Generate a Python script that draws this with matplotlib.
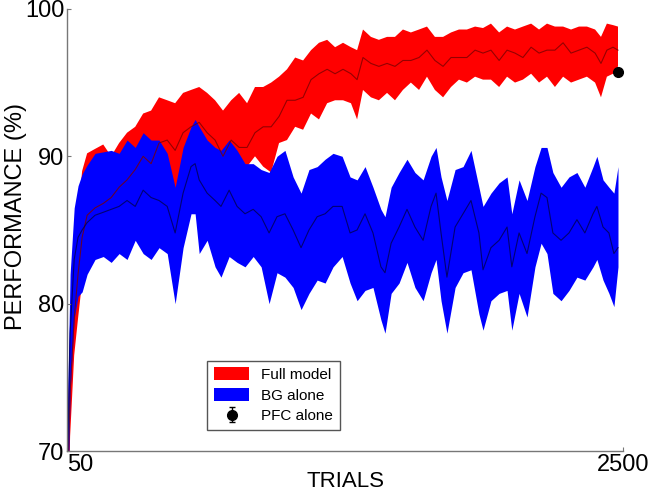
import numpy as np
import matplotlib.pyplot as plt

plt.rcParams['font.family'] = ['Liberation Sans', 'DejaVu Sans']

# Full model (red band): trial, mean, lower edge, upper edge
trials_full = [50, 63, 81, 98, 116, 138, 173, 209, 244, 279, 314, 350, 385, 420, 455,
               491, 526, 561, 596, 632, 667, 702, 737, 773, 808, 843, 878, 914, 949,
               984, 1019, 1055, 1090, 1125, 1160, 1196, 1231, 1266, 1301, 1328, 1354,
               1389, 1424, 1460, 1495, 1530, 1565, 1601, 1636, 1671, 1707, 1742, 1777,
               1812, 1848, 1883, 1918, 1954, 1989, 2024, 2059, 2095, 2130, 2165, 2200,
               2236, 2271, 2306, 2341, 2377, 2403, 2429, 2456, 2478]
full_mean = [66, 74, 79, 82, 84.5, 86, 86.5, 86.8, 87.2, 87.9, 88.4, 89.1, 90.0, 89.5, 90.9,
             91.1, 90.4, 91.6, 92.0, 92.3, 91.6, 91.1, 90.0, 91.1, 90.6, 90.6, 91.6, 92.0, 92.0,
             92.7, 93.8, 93.8, 94.0, 95.2, 95.6, 95.9, 95.6, 95.9, 95.6, 95.2, 96.7,
             96.3, 96.1, 96.3, 96.1, 96.5, 96.5, 96.7, 97.2, 96.5, 96.1, 96.7, 96.7,
             96.7, 97.2, 97.0, 97.2, 96.5, 97.2, 97.0, 96.7, 97.4, 97.0, 97.2, 97.2,
             97.7, 97.0, 97.2, 97.4, 97.0, 96.3, 97.2, 97.4, 97.2]
full_low = [62, 71, 76.5, 79, 81.5, 83, 83.2, 83.5, 83.0, 83.6, 84.0, 84.5, 85.5, 86.0, 87.5,
            88.0, 87.6, 89.0, 89.5, 89.8, 89.5, 89.2, 88.7, 89.2, 89.3, 89.3, 90.0, 89.3, 88.9,
            90.9, 91.1, 92.0, 91.8, 92.9, 92.5, 93.6, 93.8, 93.8, 93.6, 92.5, 94.5,
            94.0, 93.8, 94.3, 93.8, 94.5, 95.0, 94.5, 95.4, 94.5, 94.0, 94.7, 95.2,
            95.0, 95.4, 95.2, 95.2, 94.7, 95.4, 95.0, 95.2, 95.6, 95.0, 95.4, 94.7,
            95.4, 95.0, 95.2, 95.4, 95.0, 94.0, 95.4, 95.6, 96.1]
full_high = [70, 78, 83, 86, 89, 90.2, 90.5, 90.8, 90.0, 90.9, 91.6, 92.0, 92.9, 93.1, 94.0,
             93.8, 93.6, 94.3, 94.5, 94.7, 94.3, 93.8, 93.1, 93.8, 94.3, 93.6, 94.7, 94.7, 95.0,
             95.4, 95.9, 96.7, 96.5, 97.2, 97.7, 97.9, 97.4, 97.7, 97.4, 97.2, 98.6,
             98.1, 97.9, 98.1, 98.1, 98.6, 98.4, 98.6, 98.8, 98.1, 98.1, 98.4, 98.6,
             98.6, 98.8, 98.7, 99.0, 98.4, 98.8, 98.6, 98.8, 99.0, 98.6, 99.0, 98.8,
             98.8, 98.6, 98.8, 98.8, 98.6, 98.1, 99.0, 98.9, 98.8]

# BG alone (blue band)
trials_bg = [50, 63, 81, 98, 116, 138, 173, 209, 244, 279, 314, 350, 385, 420, 455,
             491, 526, 561, 596, 614, 632, 667, 702, 728, 764, 799, 834, 870, 905, 940,
             975, 1010, 1046, 1081, 1116, 1152, 1187, 1222, 1262, 1297, 1328, 1363,
             1398, 1433, 1451, 1478, 1513, 1548, 1583, 1619, 1654, 1676, 1698, 1724,
             1760, 1795, 1830, 1865, 1883, 1918, 1954, 1989, 2010, 2042, 2077, 2112,
             2139, 2165, 2191, 2227, 2262, 2297, 2332, 2368, 2385, 2412, 2438, 2460, 2478]
bg_mean = [68, 78, 83, 84.5, 85, 85.5, 86, 86.2, 86.4, 86.6, 87.0, 86.6, 87.7, 87.2, 87.0,
           86.6, 84.8, 87.5, 89.3, 89.5, 88.4, 87.5, 87.0, 86.6, 87.7, 86.6, 86.1, 86.4, 85.9, 84.8,
           85.9, 86.1, 85.0, 83.8, 85.0, 85.9, 86.1, 86.6, 86.6, 84.8, 85.0, 86.1,
           84.8, 82.5, 82.1, 84.1, 85.2, 86.4, 85.2, 84.3, 86.6, 87.5, 84.8, 81.8,
           85.2, 86.1, 87.0, 84.8, 82.3, 83.8, 84.3, 85.2, 82.5, 84.8, 83.4, 85.9,
           87.5, 87.2, 84.8, 84.3, 84.8, 85.7, 84.8, 86.1, 86.6, 85.2, 84.8, 83.4, 83.8]
bg_low = [64, 74, 79, 80.5, 80.8, 82, 83, 83.2, 82.8, 83.4, 83.0, 84.3, 83.4, 83.0, 83.8,
          83.4, 80.0, 83.8, 86.1, 86.1, 83.4, 84.3, 82.5, 81.8, 83.2, 82.8, 82.5, 83.2, 82.5, 80.0,
          82.1, 81.8, 81.1, 79.6, 80.7, 81.6, 81.4, 82.5, 83.2, 81.4, 80.2, 80.9,
          81.1, 78.9, 78.0, 80.7, 81.4, 82.8, 81.1, 80.2, 82.1, 83.0, 80.2, 78.0,
          81.1, 82.1, 82.3, 79.3, 78.2, 80.2, 80.7, 80.9, 78.2, 80.7, 79.1, 82.5,
          84.1, 83.4, 80.7, 80.2, 80.9, 81.8, 81.6, 82.5, 83.0, 81.6, 80.7, 79.8, 82.5]
bg_high = [72, 82, 86.5, 88, 88.8, 89.4, 90.2, 90.3, 90.4, 90.2, 91.1, 90.6, 91.6, 91.1, 91.1,
           90.2, 87.9, 90.6, 92.0, 92.5, 92.0, 91.1, 90.6, 90.4, 91.1, 90.4, 89.5, 89.5, 89.1, 88.9,
           90.0, 90.4, 88.6, 87.5, 89.1, 89.3, 89.8, 90.2, 90.0, 88.6, 88.4, 89.3,
           87.9, 86.4, 85.9, 87.9, 88.9, 89.8, 88.9, 88.4, 90.0, 90.6, 88.6, 87.0,
           89.1, 89.3, 90.4, 87.9, 86.6, 87.5, 88.2, 88.6, 86.1, 88.4, 87.0, 89.3,
           90.6, 90.6, 88.9, 87.9, 88.6, 88.9, 87.9, 89.3, 90.0, 88.4, 87.9, 87.5, 89.3]

# PFC alone
pfc_trial = [2478]
pfc_perf = [95.7]
pfc_err = [0.15]

fig, ax = plt.subplots(figsize=(6.52, 4.93), dpi=100)
fig.subplots_adjust(left=0.103, right=0.9555, bottom=0.085, top=0.982)

ax.fill_between(trials_full, full_low, full_high, color='#ff0000', linewidth=0,
                label='Full model')
ax.fill_between(trials_bg, bg_low, bg_high, color='#0000ff', linewidth=0,
                label='BG alone')
ax.plot(trials_full, full_mean, color='#7a0000', linewidth=0.8, alpha=0.8)
ax.plot(trials_bg, bg_mean, color='#000050', linewidth=0.8, alpha=0.8)
ax.errorbar(pfc_trial, pfc_perf, yerr=pfc_err, fmt='o', color='black',
            markersize=7, capsize=2, elinewidth=1, label='PFC alone', clip_on=False,
            zorder=5)

ax.set_xlim(50, 2500)
ax.set_ylim(70, 100)
ax.set_xticks([50, 2500])
ax.set_yticks([70, 80, 90, 100])
ax.tick_params(labelsize=17, length=3, direction='in', pad=2, color='#777777')
ax.get_xticklabels()[0].set_horizontalalignment('left')
ax.set_xlabel('TRIALS', fontsize=16)
ax.xaxis.set_label_coords(0.5, -0.046)
ax.set_ylabel('PERFORMANCE (%)', fontsize=17)
ax.yaxis.set_label_coords(-0.072, 0.53)

for side in ['top', 'right']:
    ax.spines[side].set_visible(False)
for side in ['left', 'bottom']:
    ax.spines[side].set_color('#777777')
    ax.spines[side].set_linewidth(1.0)

leg = ax.legend(loc='lower left', bbox_to_anchor=(0.252, 0.047), borderaxespad=0,
                fontsize=11, fancybox=False, edgecolor='#555555', framealpha=1,
                handlelength=2.3, handleheight=0.9, labelspacing=0.4, borderpad=0.45)
leg.get_frame().set_linewidth(1.0)

fig.savefig('out.png', dpi=100)
